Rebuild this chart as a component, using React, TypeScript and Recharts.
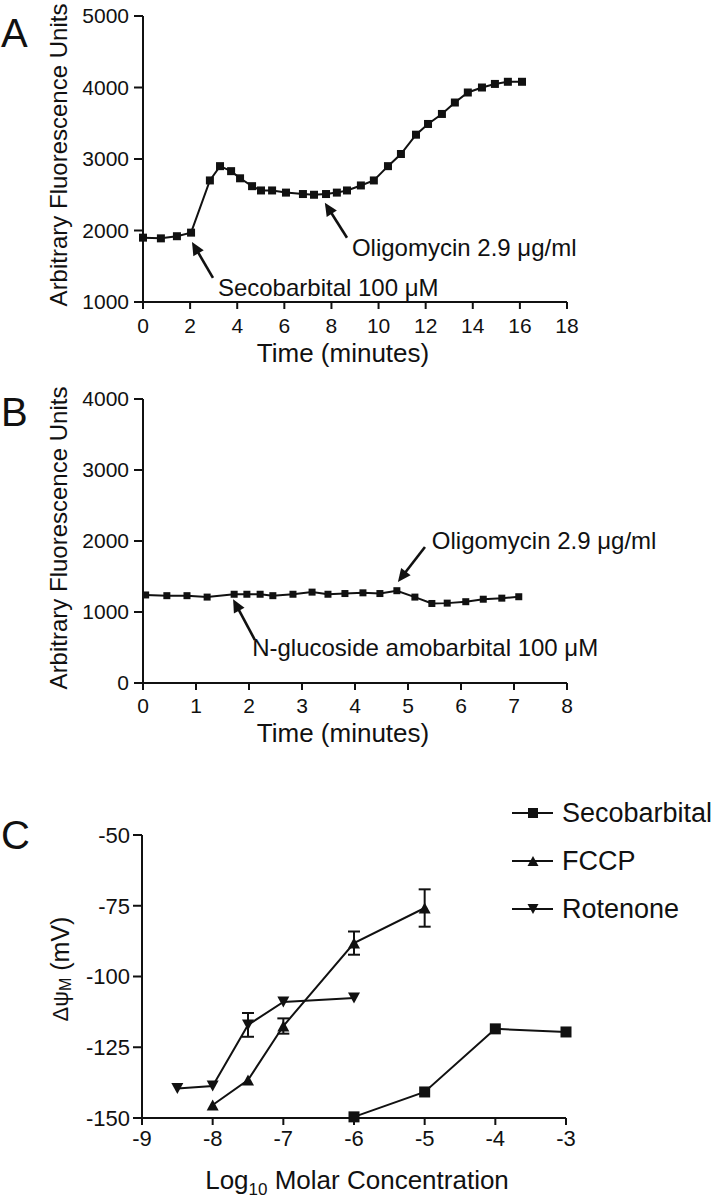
import React from 'react';
import { LineChart, Line, XAxis, YAxis, ErrorBar, ReferenceLine, ReferenceDot, Legend } from 'recharts';

const FONT = '"Liberation Sans", Arial, Helvetica, sans-serif';
const INK = '#111';

// Panel A: secobarbital trace
const timeA = [0, 0.76, 1.44, 2.04, 2.84, 3.27, 3.74, 4.12, 4.63, 5.01, 5.48, 6.07, 6.79, 7.26, 7.77, 8.23, 8.66, 9.25, 9.8, 10.4, 10.95, 11.59, 12.1, 12.69, 13.24, 13.79, 14.39, 14.94, 15.49, 16.09];
const fluorA = [1900, 1890, 1920, 1970, 2700, 2900, 2830, 2730, 2620, 2560, 2560, 2530, 2510, 2500, 2510, 2530, 2560, 2630, 2700, 2900, 3070, 3340, 3490, 3630, 3790, 3930, 4000, 4050, 4080, 4080];
const xTicksA = [0, 2, 4, 6, 8, 10, 12, 14, 16, 18];
const yTicksA = [1000, 2000, 3000, 4000, 5000];

// Panel B: N-glucoside amobarbital trace
const timeB = [0.05, 0.45, 0.83, 1.21, 1.72, 1.96, 2.21, 2.45, 2.83, 3.19, 3.49, 3.81, 4.15, 4.47, 4.79, 5.13, 5.45, 5.74, 6.09, 6.42, 6.77, 7.09];
const fluorB = [1240, 1230, 1230, 1210, 1250, 1250, 1250, 1230, 1250, 1280, 1250, 1260, 1270, 1260, 1300, 1210, 1120, 1125, 1145, 1180, 1195, 1215];
const xTicksB = [0, 1, 2, 3, 4, 5, 6, 7, 8];
const yTicksB = [0, 1000, 2000, 3000, 4000];

// Panel C: membrane potential vs log concentration
const secoLogM = [-6, -5, -4, -3];
const secoMv = [-149.6, -140.8, -118.5, -119.6];
const fccpLogM = [-8, -7.5, -7, -6, -5];
const fccpMv = [-145.4, -136.6, -117.5, -88.2, -75.8];
const fccpSem = [0, 0, 2.7, 4.1, 6.6];
const rotLogM = [-8.5, -8, -7.5, -7, -6];
const rotMv = [-139.6, -138.7, -117.1, -109, -107.6];
const rotSem = [0, 0, 4.2, 0, 0];
const xTicksC = [-9, -8, -7, -6, -5, -4, -3];
const yTicksC = [-150, -125, -100, -75, -50];

// annotations, in data units: [tail, tip]
const arrowsA = [
  [[2.97, 1337], [2.08, 1840]],
  [[8.66, 1898], [7.72, 2389]],
];
const notesA = [
  { x: 3.18, y: 1196, text: 'Secobarbital 100 μM' },
  { x: 8.87, y: 1758, text: 'Oligomycin 2.9 μg/ml' },
];
const arrowsB = [
  [[2.11, 606], [1.7, 1180]],
  [[5.32, 1915], [4.81, 1423]],
];
const notesB = [
  { x: 2.06, y: 493, text: 'N-glucoside amobarbital 100 μM' },
  { x: 5.45, y: 2014, text: 'Oligomycin 2.9 μg/ml' },
];

const dataA = timeA.map((t, i) => ({ t, v: fluorA[i] }));
const dataB = timeB.map((t, i) => ({ t, v: fluorB[i] }));
const secoData = secoLogM.map((x, i) => ({ x, y: secoMv[i] }));
const fccpData = fccpLogM.map((x, i) => ({ x, y: fccpMv[i], e: fccpSem[i] }));
const rotData = rotLogM.map((x, i) => ({ x, y: rotMv[i], e: rotSem[i] }));

const axisLine = { stroke: INK, strokeWidth: 2 };

const square = (size: number) => (p: any) => (
  <rect key={`sq-${p.index}`} x={p.cx - size / 2} y={p.cy - size / 2} width={size} height={size} fill={INK} />
);

const triangle = (w: number, h: number, up: boolean) => (p: any) => {
  const { cx, cy } = p;
  const pts = up
    ? `${cx},${cy - h / 2} ${cx - w / 2},${cy + h / 2} ${cx + w / 2},${cy + h / 2}`
    : `${cx},${cy + h / 2} ${cx - w / 2},${cy - h / 2} ${cx + w / 2},${cy - h / 2}`;
  return <polygon key={`tr-${p.index}`} points={pts} fill={INK} />;
};

const Arrow = (p: any) => {
  const { x1, y1, x2, y2 } = p;
  const dx = x2 - x1;
  const dy = y2 - y1;
  const len = Math.hypot(dx, dy) || 1;
  const ux = dx / len;
  const uy = dy / len;
  const head = 13;
  const half = 6;
  const bx = x2 - ux * head;
  const by = y2 - uy * head;
  return (
    <g>
      <line x1={x1} y1={y1} x2={bx + ux * 2} y2={by + uy * 2} stroke={INK} strokeWidth={2.6} />
      <polygon points={`${x2},${y2} ${bx - uy * half},${by + ux * half} ${bx + uy * half},${by - ux * half}`} fill={INK} />
    </g>
  );
};

const noteShape = (text: string) => (p: any) => (
  <text x={p.cx} y={p.cy} dominantBaseline="central" fontSize={24} fill={INK} fontFamily={FONT}>
    {text}
  </text>
);

const xTitle = (text: string, cx: number, cy: number) => () => (
  <text x={cx} y={cy} textAnchor="middle" dominantBaseline="central" fontSize={26} fill={INK} fontFamily={FONT}>
    {text}
  </text>
);

const yTitle = (text: string, cx: number, cy: number) => () => (
  <text x={cx} y={cy} transform={`rotate(-90 ${cx} ${cy})`} textAnchor="middle" dominantBaseline="central" fontSize={24} fill={INK} fontFamily={FONT}>
    {text}
  </text>
);

const tickStyle = { fontSize: 21, fill: INK, fontFamily: FONT };

const renderArrows = (list: number[][][], tag: string) =>
  list.map((a, i) => (
    <ReferenceLine
      key={`${tag}-arrow-${i}`}
      segment={[{ x: a[0][0], y: a[0][1] }, { x: a[1][0], y: a[1][1] }]}
      stroke={INK}
      shape={Arrow}
    />
  ));

const renderNotes = (list: { x: number; y: number; text: string }[], tag: string) =>
  list.map((n, i) => (
    <ReferenceDot key={`${tag}-note-${i}`} x={n.x} y={n.y} r={0} shape={noteShape(n.text)} />
  ));

const PanelA = () => (
  <LineChart width={718} height={380} data={dataA} margin={{ top: 16, right: 151, bottom: 18, left: 0 }}>
    <XAxis type="number" dataKey="t" domain={[0, 18]} ticks={xTicksA} interval={0} height={60}
      axisLine={axisLine} tickLine={axisLine} tickSize={7} tickMargin={9} tick={tickStyle}
      label={{ content: xTitle('Time (minutes)', 343, 353) }} />
    <YAxis type="number" domain={[1000, 5000]} ticks={yTicksA} interval={0} width={143}
      axisLine={axisLine} tickLine={axisLine} tickSize={9} tickMargin={5} tick={tickStyle}
      label={{ content: yTitle('Arbitrary Fluorescence Units', 58, 155) }} />
    <Line dataKey="v" stroke={INK} strokeWidth={2} dot={square(8)} activeDot={false} isAnimationActive={false} />
    {renderArrows(arrowsA, 'a')}
    {renderNotes(notesA, 'a')}
  </LineChart>
);

const PanelB = () => (
  <LineChart width={718} height={400} data={dataB} margin={{ top: 39, right: 151, bottom: 17, left: 0 }}>
    <XAxis type="number" dataKey="t" domain={[0, 8]} ticks={xTicksB} interval={0} height={60}
      axisLine={axisLine} tickLine={axisLine} tickSize={7} tickMargin={8} tick={tickStyle}
      label={{ content: xTitle('Time (minutes)', 343, 373) }} />
    <YAxis type="number" domain={[0, 4000]} ticks={yTicksB} interval={0} width={143}
      axisLine={axisLine} tickLine={axisLine} tickSize={9} tickMargin={5} tick={tickStyle}
      label={{ content: yTitle('Arbitrary Fluorescence Units', 58, 178) }} />
    <Line dataKey="v" stroke={INK} strokeWidth={2} dot={square(7)} activeDot={false} isAnimationActive={false} />
    {renderArrows(arrowsB, 'b')}
    {renderNotes(notesB, 'b')}
  </LineChart>
);

const legendItems = [
  { name: 'Secobarbital', marker: 'square' },
  { name: 'FCCP', marker: 'up' },
  { name: 'Rotenone', marker: 'down' },
];

const LegendIcon = ({ marker }: { marker: string }) => (
  <svg width={42} height={20} style={{ marginRight: 8, display: 'block' }}>
    <line x1={0} y1={10} x2={41} y2={10} stroke={INK} strokeWidth={2} />
    {marker === 'square' && <rect x={16} y={5} width={10} height={10} fill={INK} />}
    {marker === 'up' && <polygon points="21,5 15.5,15 26.5,15" fill={INK} />}
    {marker === 'down' && <polygon points="21,15 15.5,5 26.5,5" fill={INK} />}
  </svg>
);

const LegendBox = () => (
  <div style={{ fontFamily: FONT, color: INK }}>
    {legendItems.map((it) => (
      <div key={it.name} style={{ display: 'flex', alignItems: 'center', height: 48 }}>
        <LegendIcon marker={it.marker} />
        <span style={{ fontSize: 27, lineHeight: '48px' }}>{it.name}</span>
      </div>
    ))}
  </div>
);

const yTitleC = () => (
  <text x={60} y={189} transform="rotate(-90 60 189)" textAnchor="middle" dominantBaseline="central" fill={INK} fontFamily={FONT}>
    <tspan fontSize={22}>Δψ</tspan>
    <tspan fontSize={16} dy={5}>M</tspan>
    <tspan fontSize={25} dy={-5}> (mV)</tspan>
  </text>
);

const xTitleC = () => (
  <text x={357} y={409} textAnchor="middle" fill={INK} fontFamily={FONT} fontSize={26}>
    <tspan>Log</tspan>
    <tspan fontSize={17} dy={6}>10</tspan>
    <tspan dy={-6}> Molar Concentration</tspan>
  </text>
);

const PanelC = () => (
  <LineChart width={718} height={420} margin={{ top: 55, right: 152, bottom: 22, left: 0 }}>
    <XAxis type="number" dataKey="x" domain={[-9, -3]} ticks={xTicksC} interval={0} height={60}
      axisLine={axisLine} tickLine={axisLine} tickSize={7} tickMargin={5} tick={{ ...tickStyle, fontSize: 22 }}
      label={{ content: xTitleC }} />
    <YAxis type="number" domain={[-150, -50]} ticks={yTicksC} interval={0} width={142}
      axisLine={axisLine} tickLine={axisLine} tickSize={9} tickMargin={3} tick={{ ...tickStyle, fontSize: 22 }}
      label={{ content: yTitleC }} />
    <Line data={secoData} dataKey="y" name="Secobarbital" stroke={INK} strokeWidth={2} dot={square(11)} activeDot={false} isAnimationActive={false} />
    <Line data={fccpData} dataKey="y" name="FCCP" stroke={INK} strokeWidth={2} dot={triangle(12, 11, true)} activeDot={false} isAnimationActive={false}>
      <ErrorBar dataKey="e" width={6} stroke={INK} strokeWidth={2} direction="y" isAnimationActive={false} />
    </Line>
    <Line data={rotData} dataKey="y" name="Rotenone" stroke={INK} strokeWidth={2} dot={triangle(12, 11, false)} activeDot={false} isAnimationActive={false}>
      <ErrorBar dataKey="e" width={6} stroke={INK} strokeWidth={2} direction="y" isAnimationActive={false} />
    </Line>
    <Legend layout="vertical" verticalAlign="middle" align="center"
      wrapperStyle={{ left: 512, top: 9, width: 206 }} content={() => <LegendBox />} />
  </LineChart>
);

const letterStyle: React.CSSProperties = {
  position: 'absolute', left: 1, fontSize: 40, lineHeight: '40px', fontFamily: FONT, color: INK,
};

export default function App() {
  return (
    <div style={{ position: 'absolute', left: 0, top: 0, width: 718, height: 1200, background: '#fff', fontFamily: FONT }}>
      <div style={{ position: 'absolute', left: 0, top: 0 }}><PanelA /></div>
      <div style={{ position: 'absolute', left: 0, top: 360 }}><PanelB /></div>
      <div style={{ position: 'absolute', left: 0, top: 780 }}><PanelC /></div>
      <div style={{ ...letterStyle, top: 13 }}>A</div>
      <div style={{ ...letterStyle, top: 392 }}>B</div>
      <div style={{ ...letterStyle, top: 815 }}>C</div>
    </div>
  );
}
